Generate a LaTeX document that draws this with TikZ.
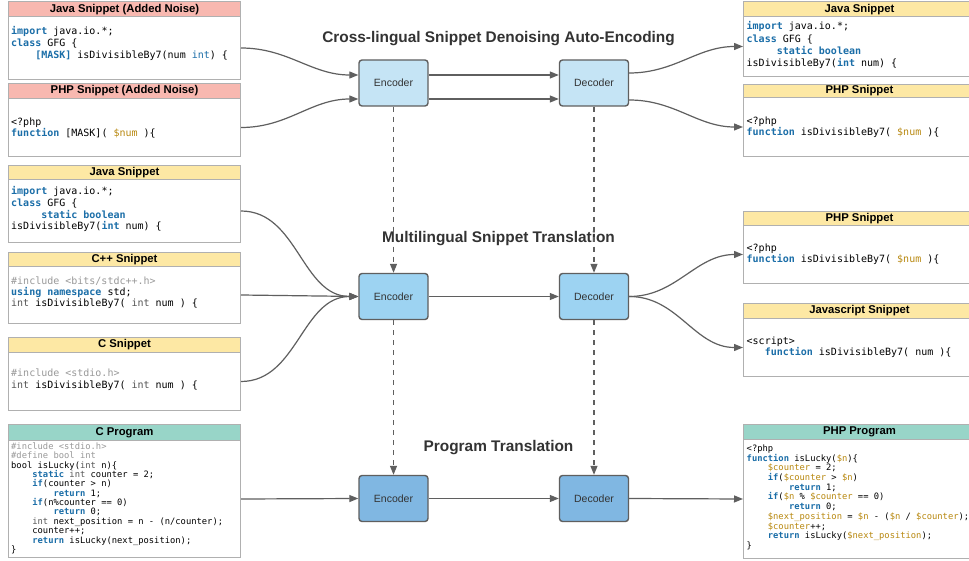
\documentclass[tikz,border=0pt]{standalone}
\usepackage{fontspec}
\setmainfont{Liberation Sans}
\newfontfamily\codefont{DejaVu Sans Mono}
\usetikzlibrary{arrows.meta}
\definecolor{kwc}{HTML}{1B6EA8}
\definecolor{incg}{HTML}{999999}
\definecolor{tyg}{HTML}{555555}
\definecolor{goldc}{HTML}{B8880F}
\definecolor{bordc}{HTML}{B0B0B0}
\definecolor{pinkh}{HTML}{F8B8B0}
\definecolor{yelh}{HTML}{FDE8A4}
\definecolor{tealh}{HTML}{98D5C8}
\definecolor{blueA}{HTML}{C5E4F5}
\definecolor{blueB}{HTML}{9DD3F2}
\definecolor{blueC}{HTML}{80B7E2}
\definecolor{edgec}{HTML}{5F5F5F}
\definecolor{txtc}{HTML}{333333}
\newcommand\kw[1]{{\bfseries\color{kwc}#1}}
\newcommand\kwl[1]{{\color{kwc}#1}}
\newcommand\cm[1]{{\color{incg}#1}}
\newcommand\ty[1]{{\color{tyg}#1}}
\newcommand\va[1]{{\color{goldc}#1}}
\newcommand\ind[1]{\hspace*{#1\fontcharwd\font`x}}
\newcommand\snip[8]{%
  \node[hdr, fill=#7, minimum width=#6, minimum height={#4-#3}, anchor=north west] (#1h) at (#2,#3) {#8};
  \node[bodybox, minimum width=#6, minimum height={#5-#4}, anchor=north west] (#1) at (#2,#4) {};
}
\begin{document}
\begin{tikzpicture}[x=1pt,y=-1pt,
  hdr/.style={draw=bordc, line width=1pt, inner sep=0pt, font=\bfseries\fontsize{11.3}{13}\selectfont, text=black},
  bodybox/.style={draw=bordc, line width=1pt, inner sep=0pt, fill=white},
  code/.style={anchor=north west, inner sep=0pt, align=left, font=\codefont\fontsize{10}{#1}\selectfont},
  codesm/.style={anchor=north west, inner sep=0pt, align=left, font=\codefont\fontsize{8.8}{#1}\selectfont},
  proc/.style={draw=edgec, line width=1.4pt, rounded corners=3pt, minimum width=69pt, minimum height=46pt, inner sep=0pt, text=txtc, font=\fontsize{10.5}{12}\selectfont},
  ttl/.style={text=txtc, font=\bfseries\fontsize{15.4}{18}\selectfont, inner sep=0pt},
  conn/.style={draw=edgec, line width=1.2pt, -{Triangle[length=9pt,width=7pt]}},
  dconn/.style={conn, dash pattern=on 5pt off 5pt}
]
\useasboundingbox (0,0) rectangle (969,561);
\clip (0,0) rectangle (969,561);
\fill[white] (0,0) rectangle (969,561);

% left boxes
\snip{L1}{8}{1.5}{16}{79}{232}{pinkh}{Java Snippet (Added Noise)}
\snip{L2}{8}{83}{98}{156}{232}{pinkh}{PHP Snippet (Added Noise)}
\snip{L3}{8}{165}{179}{242}{232}{yelh}{Java Snippet}
\snip{L4}{8}{252}{266}{323}{232}{yelh}{C++ Snippet}
\snip{L5}{8}{337}{352}{410}{232}{yelh}{C Snippet}
\snip{L6}{8}{424}{440}{557}{232}{tealh}{C Program}
% right boxes
\snip{R1}{743}{1.5}{16}{76}{232}{yelh}{Java Snippet}
\snip{R2}{743}{84}{97}{156}{232}{yelh}{PHP Snippet}
\snip{R3}{743}{211}{225}{283}{232}{yelh}{PHP Snippet}
\snip{R4}{743}{303}{318}{376}{232}{yelh}{Javascript Snippet}
\snip{R5}{743}{424}{439}{558}{232}{tealh}{PHP Program}

% code texts
\node[code=12] (cL1) at (11,25.6) {\rule{0pt}{9pt}\kw{import} java.io.*;\\%
\kw{class} GFG \{\\%
\ind{4}\kw{[MASK]} isDivisibleBy7(num \kwl{int}) \{};
\node[code=11] (cL2) at (11,116.6) {\rule{0pt}{9pt}<?php\\%
\kw{function} [MASK]( \va{\$num} )\{};
\node[code=11.7] (cL3) at (11,185.6) {\rule{0pt}{9pt}\kw{import} java.io.*;\\%
\kw{class} GFG \{\\%
\ind{5}\kw{static boolean}\\%
isDivisibleBy7(\kw{int} num) \{};
\node[code=11] (cL4) at (11,275.6) {\rule{0pt}{9pt}\cm{\#include <bits/stdc++.h>}\\%
\kw{using namespace} std;\\%
\ty{int} isDivisibleBy7( \ty{int} num ) \{};
\node[code=12] (cL5) at (11,367.6) {\rule{0pt}{9pt}\cm{\#include <stdio.h>}\\%
\ty{int} isDivisibleBy7( \ty{int} num ) \{};
\node[codesm=9.36] (cL6) at (11,441.2) {\rule{0pt}{8pt}\cm{\#include <stdio.h>}\\%
\cm{\#define bool int}\\%
bool isLucky(\ty{int} n)\{\\%
\ind{4}\kw{static} \ty{int} counter = 2;\\%
\ind{4}\kw{if}(counter > n)\\%
\ind{8}\kw{return} 1;\\%
\ind{4}\kw{if}(n\%counter == 0)\\%
\ind{8}\kw{return} 0;\\%
\ind{4}\ty{int} next\_position = n - (n/counter);\\%
\ind{4}counter++;\\%
\ind{4}\kw{return} isLucky(next\_position);\\%
\}};

\node[code=12.3] (cR1) at (746.5,20.6) {\rule{0pt}{9pt}\kw{import} java.io.*;\\%
\kw{class} GFG \{\\%
\ind{5}\kw{static boolean}\\%
isDivisibleBy7(\kw{int} num) \{};
\node[code=11] (cR2) at (746.5,115.6) {\rule{0pt}{9pt}<?php\\%
\kw{function} isDivisibleBy7( \va{\$num} )\{};
\node[code=11] (cR3) at (746.5,242.6) {\rule{0pt}{9pt}<?php\\%
\kw{function} isDivisibleBy7( \va{\$num} )\{};
\node[code=11] (cR4) at (746.5,335.6) {\rule{0pt}{9pt}<script>\\%
\ind{3}\kw{function} isDivisibleBy7( num )\{};
\node[codesm=9.7] (cR5) at (746.5,443.2) {\rule{0pt}{8pt}<?php\\%
\kw{function} isLucky(\va{\$n})\{\\%
\ind{4}\va{\$counter} = 2;\\%
\ind{4}\kw{if}(\va{\$counter} > \va{\$n})\\%
\ind{8}\kw{return} 1;\\%
\ind{4}\kw{if}(\va{\$n} \% \va{\$counter} == 0)\\%
\ind{8}\kw{return} 0;\\%
\ind{4}\va{\$next\_position} = \va{\$n} - (\va{\$n} / \va{\$counter});\\%
\ind{4}\va{\$counter}++;\\%
\ind{4}\kw{return} isLucky(\va{\$next\_position});\\%
\}};

% titles
\node[ttl] (t1) at (498.5,39) {Cross-lingual Snippet Denoising Auto-Encoding};
\node[ttl] (t2) at (498.5,239) {Multilingual Snippet Translation};
\node[ttl] (t3) at (498.5,448) {Program Translation};

% encoders / decoders
\node[proc, fill=blueA] (e1) at (393.5,83) {Encoder};
\node[proc, fill=blueA] (d1) at (594,83) {Decoder};
\node[proc, fill=blueB] (e2) at (393.5,296.5) {Encoder};
\node[proc, fill=blueB] (d2) at (594,296.5) {Decoder};
\node[proc, fill=blueC] (e3) at (393.5,498.5) {Encoder};
\node[proc, fill=blueC] (d3) at (594,498.5) {Decoder};

% top connectors
\draw[conn] (L1.east) to[out=0,in=180] ([yshift=8pt]e1.west);
\draw[conn] (L2.east) to[out=0,in=180] ([yshift=-16pt]e1.west);
\draw[conn] ([yshift=8pt]e1.east) -- ([yshift=8pt]d1.west);
\draw[conn] ([yshift=-16pt]e1.east) -- ([yshift=-16pt]d1.west);
\draw[conn] ([yshift=10pt]d1.east) to[out=0,in=180] (R1.west);
\draw[conn] ([yshift=-17pt]d1.east) to[out=0,in=180] (R2.west);

% dashed
\draw[dconn] (e1.south) -- (e2.north);
\draw[dconn] (d1.south) -- (d2.north);
\draw[dconn] (e2.south) -- (e3.north);
\draw[dconn] (d2.south) -- (d3.north);

% middle
\draw[conn] (L3.east) to[out=0,in=180] (e2.west);
\draw[conn] (L4.east) -- (e2.west);
\draw[conn] (L5.east) to[out=0,in=180] (e2.west);
\draw[conn] (e2.east) -- (d2.west);
\draw[conn] (d2.east) to[out=0,in=180] (R3.west);
\draw[conn] (d2.east) to[out=0,in=180] (R4.west);

% bottom
\draw[conn] (L6.east) -- (e3.west);
\draw[conn] (e3.east) -- (d3.west);
\draw[conn] (d3.east) -- (R5.west);
\end{tikzpicture}
\end{document}
